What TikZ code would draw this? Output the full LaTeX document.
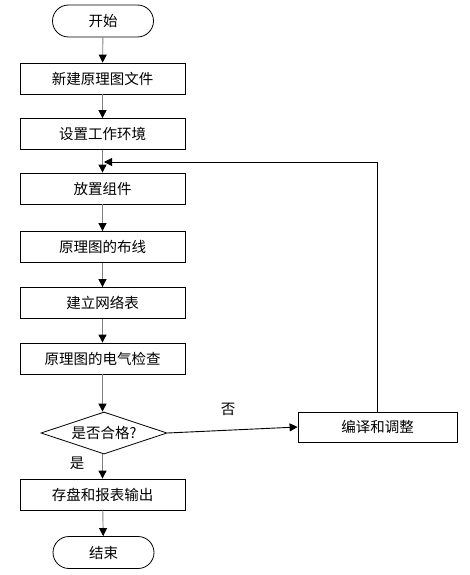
\documentclass[tikz,border=0pt]{standalone}
\usepackage{fontspec}
\setmainfont{Noto Sans CJK SC}
\usetikzlibrary{shapes.geometric,shapes.misc,arrows.meta}
\begin{document}
\begin{tikzpicture}[x=1pt,y=-1pt,
  every node/.style={font=\fontsize{14.5}{17}\selectfont},
  procbox/.style={draw, line width=0.8pt, minimum width=165pt, minimum height=31pt, inner sep=0pt},
  term/.style={draw, line width=0.8pt, rounded rectangle, minimum width=101pt, minimum height=32pt, inner sep=0pt},
  decide/.style={draw, line width=0.8pt, diamond, aspect=3, minimum width=126pt, minimum height=42pt, inner sep=0pt},
  flow/.style={draw=black!50, line width=0.9pt, -{Triangle[black,length=8pt,width=8pt]}},
  back/.style={draw=black, line width=0.9pt, -{Triangle[black,length=8pt,width=8pt]}},
  plain/.style={draw=black, line width=0.9pt}]
\useasboundingbox (0,0) rectangle (470,575);
\node[term] (start) at (103,21) {开始};
\node[procbox] (b1) at (102.5,78.5) {新建原理图文件};
\node[procbox] (b2) at (102.5,134) {设置工作环境};
\node[procbox] (b3) at (102.5,188.5) {放置组件};
\node[procbox] (b4) at (102.5,247) {原理图的布线};
\node[procbox] (b5) at (102.5,303) {建立网络表};
\node[procbox] (b6) at (102.5,358.5) {原理图的电气检查};
\node[decide] (dia) at (104,433) {是否合格?};
\node[procbox] (b7) at (102.5,494.5) {存盘和报表输出};
\node[term] (end) at (103.5,552.5) {结束};
\node[procbox, minimum width=159pt, minimum height=30pt] (side) at (377.5,427) {编译和调整};
\coordinate (corner) at (side.north |- 0,162);
\coordinate (join) at (104,162);
\draw[flow] (start) -- (b1);
\draw[flow] (b1) -- (b2);
\draw[flow] (b2) -- (b3);
\draw[flow] (b3) -- (b4);
\draw[flow] (b4) -- (b5);
\draw[flow] (b5) -- (b6);
\draw[flow] (b6.south) -- (b6.south |- dia.north);
\draw[flow] (dia.south -| b7.north) -- (b7);
\draw[flow] (b7) -- (end);
\draw[back] (dia.east) -- (side.west);
\draw[plain] (side.north) -- (corner);
\draw[back] (corner) -- (join);
\node (no) at (228,409) {否};
\node (yes) at (77,463) {是};
\end{tikzpicture}
\end{document}
